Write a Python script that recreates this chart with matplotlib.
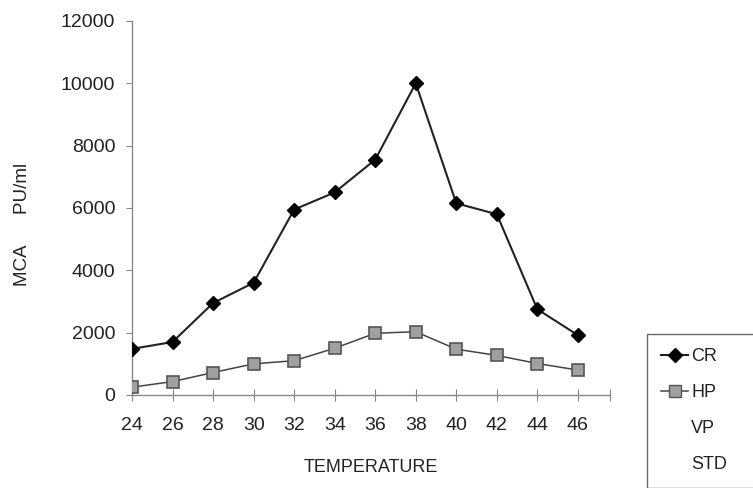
import matplotlib.pyplot as plt
from matplotlib.lines import Line2D

plt.rcParams['font.family'] = ['Liberation Sans', 'DejaVu Sans']

# temperature steps and activity readings
temperature = [24, 26, 28, 30, 32, 34, 36, 38, 40, 42, 44, 46]
cr = [1480, 1700, 2950, 3600, 5950, 6500, 7550, 10000, 6150, 5800, 2750, 1920]
hp = [250, 430, 720, 1000, 1100, 1500, 1980, 2030, 1470, 1270, 1010, 800]
y_ticks = [0, 2000, 4000, 6000, 8000, 10000, 12000]
x_end = 47.6

fig = plt.figure(figsize=(7.53, 4.88), dpi=100)
ax = fig.add_axes([0.1753, 0.1906, 0.8105 - 0.1753, 0.957 - 0.1906])

ax.plot(temperature, cr, color='#222222', lw=1.5, marker='D', ms=7.5,
        mfc='black', mec='black', zorder=3)
ax.plot(temperature, hp, color='#444444', lw=1.1, marker='s', ms=8,
        mfc='#a0a0a0', mec='#555555', mew=1.2, zorder=3)

ax.set_xlim(24, x_end)
ax.set_ylim(0, 12000)
ax.set_xticks(temperature + [x_end])
ax.set_xticklabels([str(t) for t in temperature] + [''])
ax.set_yticks(y_ticks)
ax.set_yticklabels([str(v) for v in y_ticks])

for side in ('top', 'right'):
    ax.spines[side].set_visible(False)
for side in ('left', 'bottom'):
    ax.spines[side].set_color('#888888')
    ax.spines[side].set_linewidth(1.0)

ax.tick_params(axis='x', direction='inout', length=8, color='#888888',
               labelsize=14, pad=12)
ax.tick_params(axis='y', direction='out', length=4, color='#888888',
               labelsize=14, pad=8)
ax.tick_params(which='both', labelcolor='#222222')

ax.set_xlabel('TEMPERATURE', fontsize=13, labelpad=18, color='#222222')
ax.set_ylabel('MCA      PU/ml', fontsize=13.5, color='#222222')
ax.yaxis.set_label_coords(-0.212, 0.455)

handles = [
    Line2D([], [], color='#222222', lw=1.5, marker='D', ms=7.5, mfc='black', mec='black'),
    Line2D([], [], color='#444444', lw=1.1, marker='s', ms=8, mfc='#a0a0a0', mec='#555555'),
    Line2D([], [], color='none'),
    Line2D([], [], color='none'),
]
# legend box runs off the right edge of the figure
leg = fig.legend(handles, ['CR', 'HP', 'VP', 'STD'], loc='upper left',
                 bbox_to_anchor=(0.859, 0.0, 0.2, 0.316), mode='expand',
                 fontsize=13, frameon=True,
                 fancybox=False, edgecolor='#444444', handlelength=1.5,
                 labelspacing=1.05, borderpad=0.8, handletextpad=0.15,
                 borderaxespad=0)
leg.get_frame().set_linewidth(1.0)
for t in leg.get_texts():
    t.set_color('#222222')

fig.savefig('out.png', dpi=100)
